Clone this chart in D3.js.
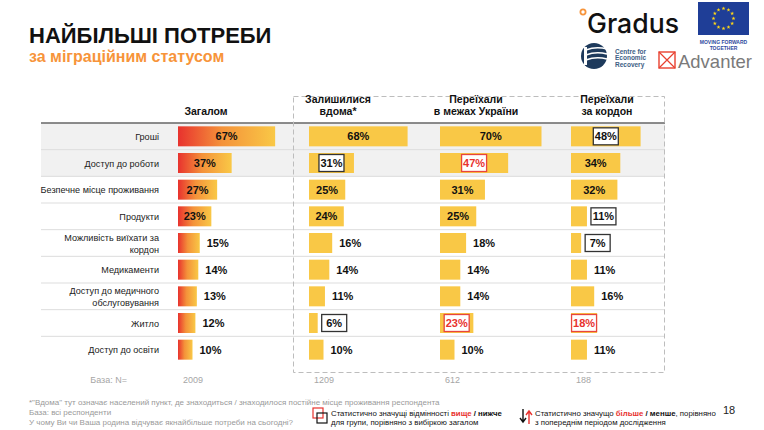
<!DOCTYPE html>
<html>
<head>
<meta charset="utf-8">
<script src="https://cdn.jsdelivr.net/npm/d3@7"></script>
<style>
  body { margin: 0; background: #fff; }
  svg { display: block; font-family: "Liberation Sans", Arial, sans-serif; }
</style>
</head>
<body>
<script>
// data
const categories = [
  'Гроші',
  'Доступ до роботи',
  'Безпечне місце проживання',
  'Продукти',
  'Можливість виїхати за|кордон',
  'Медикаменти',
  'Доступ до медичного|обслуговування',
  'Житло',
  'Доступ до освіти'
];
const groups = ['Загалом', 'Залишилися|вдома*', 'Переїхали|в межах України', 'Переїхали|за кордон'];
const totalVals    = [67, 37, 27, 23, 15, 14, 13, 12, 10];
const homeVals     = [68, 31, 25, 24, 16, 14, 11, 6, 10];
const internalVals = [70, 47, 31, 25, 18, 14, 14, 23, 10];
const abroadVals   = [48, 34, 32, 11, 7, 11, 16, 18, 11];
// significance vs total: 'hi' = higher, 'lo' = lower
const totalSig    = ['', '', '', '', '', '', '', '', ''];
const homeSig     = ['', 'lo', '', '', '', '', '', 'lo', ''];
const internalSig = ['', 'hi', '', '', '', '', '', 'hi', ''];
const abroadSig   = ['lo', '', '', 'lo', 'lo', '', '', 'hi', ''];
const bases = [2009, 1209, 612, 188];

const series = [totalVals, homeVals, internalVals, abroadVals];
const sigs = [totalSig, homeSig, internalSig, abroadSig];

const red = '#E8322E';
const yellow = '#F9C846';
const orange = '#F7943A';

const svg = d3.select('body')
  .append('svg')
  .attr('width', 764)
  .attr('height', 430);

// gradient for the "total" bars
const defs = svg.append('defs');
const grad = defs.append('linearGradient').attr('id', 'totalGrad');
grad.append('stop').attr('offset', '0%').attr('stop-color', red);
grad.append('stop').attr('offset', '45%').attr('stop-color', '#F4923A');
grad.append('stop').attr('offset', '100%').attr('stop-color', yellow);

// title
svg.append('text')
  .attr('x', 29).attr('y', 43)
  .attr('font-size', 22).attr('font-weight', 'bold')
  .attr('fill', '#111')
  .text('НАЙБІЛЬШІ ПОТРЕБИ');

svg.append('text')
  .attr('x', 29).attr('y', 62)
  .attr('font-size', 16).attr('font-weight', 'bold')
  .attr('fill', orange)
  .text('за міграційним статусом');

// scales
const tableLeft = 41, tableRight = 665;
const y = d3.scaleBand()
  .domain(d3.range(categories.length))
  .range([123, 363]);

const col = d3.scalePoint()
  .domain(d3.range(groups.length))
  .range([178, 571]);

const x = d3.scaleLinear()
  .domain([0, 100])
  .range([0, 145]);

const barH = 20;

const table = svg.append('g');

// shaded top rows
table.selectAll('rect.bg')
  .data([0, 1])
  .enter().append('rect')
  .attr('class', 'bg')
  .attr('x', tableLeft)
  .attr('y', d => y(d))
  .attr('width', tableRight - tableLeft)
  .attr('height', y.bandwidth())
  .attr('fill', '#F1F1F1');

// row separators
table.selectAll('line.sep')
  .data(d3.range(1, categories.length))
  .enter().append('line')
  .attr('class', 'sep')
  .attr('x1', tableLeft).attr('x2', tableRight)
  .attr('y1', d => y(d)).attr('y2', d => y(d))
  .attr('stroke', '#DDDDDD')
  .attr('stroke-width', 1);

// header line
table.append('line')
  .attr('x1', tableLeft).attr('x2', tableRight)
  .attr('y1', 123).attr('y2', 123)
  .attr('stroke', '#666')
  .attr('stroke-width', 1.5);

// dashed frame round the migration groups
table.append('rect')
  .attr('x', 293.5).attr('y', 96.5)
  .attr('width', 371).attr('height', 276)
  .attr('fill', 'none')
  .attr('stroke', '#BDBDBD')
  .attr('stroke-dasharray', '5,3');

// category labels
const catLabels = table.selectAll('text.cat')
  .data(categories)
  .enter().append('text')
  .attr('class', 'cat')
  .attr('x', 159)
  .attr('text-anchor', 'end')
  .attr('font-size', 9.1)
  .attr('fill', '#222');

catLabels.each(function (d, i) {
  const lines = d.split('|');
  const cy = y(i) + y.bandwidth() / 2;
  const t = d3.select(this);
  lines.forEach((ln, k) => {
    t.append('tspan')
      .attr('x', 159)
      .attr('y', cy + 3.5 + (k - (lines.length - 1) / 2) * 12)
      .text(ln);
  });
});

// column headers
groups.forEach((g, i) => {
  const lines = g.split('|');
  const cx = col(i) + (i === 0 ? 28 : (i === 1 ? 29 : 36));
  const t = table.append('text')
    .attr('text-anchor', 'middle')
    .attr('font-size', 10.5)
    .attr('font-weight', 'bold')
    .attr('fill', '#111');
  lines.forEach((ln, k) => {
    t.append('tspan')
      .attr('x', cx)
      .attr('y', 115 - (lines.length - 1 - k) * 12)
      .text(ln);
  });
});

// bars and value labels
series.forEach((vals, i) => {
  const g = table.append('g');
  const x0 = col(i);

  g.selectAll('rect.bar')
    .data(vals)
    .enter().append('rect')
    .attr('class', 'bar')
    .attr('x', x0)
    .attr('y', (d, j) => y(j) + (y.bandwidth() - barH) / 2)
    .attr('width', d => x(d))
    .attr('height', barH)
    .attr('fill', i === 0 ? 'url(#totalGrad)' : yellow);

  vals.forEach((v, j) => {
    const w = x(v);
    const cy = y(j) + y.bandwidth() / 2;
    const s = sigs[i][j];
    if (s) {
      const bw = 25, bh = 17;
      const bx = w >= bw ? x0 + w / 2 - bw / 2 : x0 + w + 4;
      g.append('rect')
        .attr('x', bx).attr('y', cy - bh / 2)
        .attr('width', bw).attr('height', bh)
        .attr('fill', '#fff')
        .attr('stroke', s === 'hi' ? '#E8453C' : '#333')
        .attr('stroke-width', 1.3);
      g.append('text')
        .attr('x', bx + bw / 2).attr('y', cy + 4)
        .attr('text-anchor', 'middle')
        .attr('font-size', 11).attr('font-weight', 'bold')
        .attr('fill', s === 'hi' ? red : '#111')
        .text(v + '%');
    } else if (v >= 20) {
      g.append('text')
        .attr('x', x0 + w / 2).attr('y', cy + 4)
        .attr('text-anchor', 'middle')
        .attr('font-size', 11).attr('font-weight', 'bold')
        .attr('fill', '#111')
        .text(v + '%');
    } else {
      g.append('text')
        .attr('x', x0 + w + 7).attr('y', cy + 4)
        .attr('font-size', 11).attr('font-weight', 'bold')
        .attr('fill', '#111')
        .text(v + '%');
    }
  });
});

// base row
svg.append('text')
  .attr('x', 127).attr('y', 383)
  .attr('text-anchor', 'end')
  .attr('font-size', 9).attr('fill', '#A6A6A6')
  .text('База: N=');

svg.selectAll('text.base')
  .data(bases)
  .enter().append('text')
  .attr('class', 'base')
  .attr('x', (d, i) => col(i) + 5)
  .attr('y', 383)
  .attr('font-size', 9).attr('fill', '#A6A6A6')
  .text(d => d);

// footnotes
const notes = [
  '*"Вдома" тут означає населений пункт, де знаходиться / знаходилося постійне місце проживання респондента',
  'База: всі респонденти',
  'У чому Ви чи Ваша родина відчуває якнайбільше потреби на сьогодні?'
];
svg.selectAll('text.note')
  .data(notes)
  .enter().append('text')
  .attr('class', 'note')
  .attr('x', 29)
  .attr('y', (d, i) => 405 + i * 10)
  .attr('font-size', 8)
  .attr('fill', '#9A9A9A')
  .text(d => d);

// legend: significance vs total
const leg = svg.append('g').attr('font-size', 7.8).attr('fill', '#111');
leg.append('rect').attr('x', 313).attr('y', 408).attr('width', 10).attr('height', 10)
  .attr('fill', 'none').attr('stroke', '#E8322E').attr('stroke-width', 1.2);
leg.append('rect').attr('x', 317).attr('y', 413).attr('width', 10).attr('height', 10)
  .attr('fill', 'none').attr('stroke', '#111').attr('stroke-width', 1.2);
const l1 = leg.append('text').attr('x', 331).attr('y', 416);
l1.append('tspan').text('Статистично значущі відмінності ');
l1.append('tspan').attr('fill', red).attr('font-weight', 'bold').text('вище');
l1.append('tspan').attr('font-weight', 'bold').text(' / нижче');
leg.append('text').attr('x', 331).attr('y', 425).text('для групи, порівняно з вибіркою загалом');

// legend: change vs previous wave
leg.append('path')
  .attr('d', 'M523,409 V421 M520,418 L523,422 L526,418')
  .attr('fill', 'none').attr('stroke', '#111').attr('stroke-width', 1.4);
leg.append('path')
  .attr('d', 'M529,424 V412 M526,415 L529,411 L532,415')
  .attr('fill', 'none').attr('stroke', red).attr('stroke-width', 1.4);
const l2 = leg.append('text').attr('x', 535).attr('y', 416);
l2.append('tspan').text('Статистично значущо ');
l2.append('tspan').attr('fill', red).attr('font-weight', 'bold').text('більше');
l2.append('tspan').attr('font-weight', 'bold').text(' / менше');
l2.append('tspan').text(', порівняно');
leg.append('text').attr('x', 535).attr('y', 425).text('з попереднім періодом дослідження');

// page number
svg.append('text')
  .attr('x', 723).attr('y', 414)
  .attr('font-size', 11).attr('fill', '#222')
  .text('18');

// logos
const logos = svg.append('g');

// Gradus
logos.append('circle')
  .attr('cx', 583).attr('cy', 12).attr('r', 2.6)
  .attr('fill', '#fff').attr('stroke', orange).attr('stroke-width', 1.8);
logos.append('text')
  .attr('x', 587).attr('y', 33)
  .attr('font-family', 'Inter, "Noto Sans", sans-serif')
  .attr('font-size', 27).attr('font-weight', 500)
  .attr('fill', '#111')
  .attr('textLength', 92).attr('lengthAdjust', 'spacingAndGlyphs')
  .text('Gradus');

// EU flag
logos.append('rect')
  .attr('x', 698).attr('y', 2).attr('width', 51).attr('height', 33)
  .attr('fill', '#1F3E97');
const star = d3.symbol().type(d3.symbolStar).size(5);
logos.selectAll('path.star')
  .data(d3.range(12))
  .enter().append('path')
  .attr('class', 'star')
  .attr('d', star)
  .attr('fill', '#FFD617')
  .attr('transform', d => {
    const a = d / 12 * 2 * Math.PI;
    return `translate(${723.5 + 10 * Math.sin(a)},${18.5 - 10 * Math.cos(a)})`;
  });
const eu = logos.append('text')
  .attr('text-anchor', 'middle')
  .attr('font-size', 5).attr('font-weight', 'bold')
  .attr('fill', '#2E4A9E');
eu.append('tspan').attr('x', 723.5).attr('y', 43.5).text('MOVING FORWARD');
eu.append('tspan').attr('x', 723.5).attr('y', 49.5).text('TOGETHER');

// Centre for Economic Recovery
logos.append('circle')
  .attr('cx', 594).attr('cy', 56).attr('r', 13)
  .attr('fill', '#1E3A5C');
[-6, -1, 4].forEach(dy => {
  logos.append('path')
    .attr('d', `M586,${56 + dy} Q596,${52 + dy} 607,${55 + dy}`)
    .attr('fill', 'none').attr('stroke', '#fff').attr('stroke-width', 1.6);
});
logos.append('rect')
  .attr('x', 584).attr('y', 47).attr('width', 3).attr('height', 18)
  .attr('fill', '#fff');
['Centre for', 'Economic', 'Recovery'].forEach((t, k) => {
  logos.append('text')
    .attr('x', 615).attr('y', 53.5 + k * 6.6)
    .attr('font-size', 6.5).attr('font-weight', 'bold')
    .attr('fill', '#3D5E85')
    .text(t);
});

// Advanter
logos.append('rect')
  .attr('x', 659).attr('y', 52).attr('width', 16).attr('height', 16)
  .attr('fill', 'none').attr('stroke', '#E8402F').attr('stroke-width', 1.4);
logos.append('path')
  .attr('d', 'M659,52 L675,68 M675,52 L659,68')
  .attr('stroke', '#E8402F').attr('stroke-width', 1.2);
logos.append('text')
  .attr('x', 678).attr('y', 68)
  .attr('font-family', '"Liberation Sans", Arial, sans-serif')
  .attr('font-size', 19)
  .attr('fill', '#7A7A7A')
  .attr('textLength', 74).attr('lengthAdjust', 'spacingAndGlyphs')
  .text('Advanter');
</script>
</body>
</html>
